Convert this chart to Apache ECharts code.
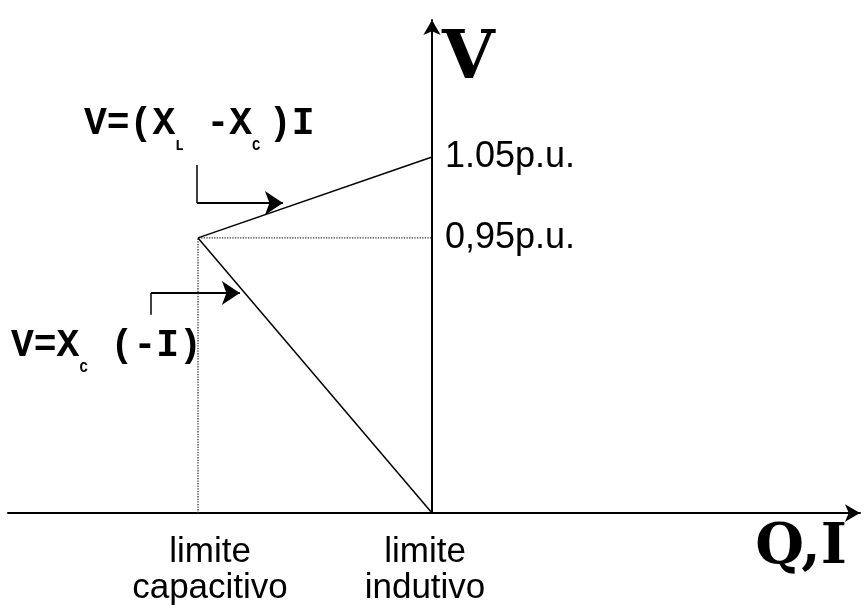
<!DOCTYPE html>
<html>
<head>
<meta charset="utf-8">
<script src="https://cdn.jsdelivr.net/npm/echarts@6/dist/echarts.min.js"></script>
<style>
  html, body { margin: 0; padding: 0; background: #fff; }
  #chart { width: 868px; height: 614px; }
</style>
</head>
<body>
<div id="chart"></div>
<script>
// x: current / reactive power, -1 = capacitive limit, 0 = inductive limit
var limitX = [-1, 0]
var limitLabels = [['limite', 'capacitivo'], ['limite', 'indutivo']]
// voltage levels, schematic heights (the sketch is not drawn to scale)
var vLevels = [0.558, 0.722]
var vLabels = ['0,95p.u.', '1.05p.u.']
// callout arrows (elbow: stem then head), in data units
var arrowXL = [[-1.004, 0.706], [-1.004, 0.629], [-0.637, 0.629]]
var arrowXC = [[-1.201, 0.402], [-1.201, 0.446], [-0.821, 0.446]]

var black = '#000'
var labelFont = 'Liberation Sans'
var eqFont = 'Liberation Mono'
var nameFont = 'DejaVu Serif'

var knee = [limitX[0], vLevels[0]]

var eqRich = {
  m: { fontFamily: eqFont, fontWeight: 'bold', fontSize: 38, lineHeight: 58 },
  s: { fontFamily: eqFont, fontWeight: 'bold', fontSize: 14, lineHeight: 15, verticalAlign: 'bottom' }
}

var chart = echarts.init(document.getElementById('chart'))

chart.setOption({
  animation: false,
  grid: { left: 8, right: 8, top: 20, bottom: 101, containLabel: false, outerBoundsMode: 'none' },
  xAxis: {
    type: 'value',
    min: -1.812,
    max: 1.829,
    name: 'Q,I',
    nameLocation: 'end',
    nameGap: -13,
    nameTextStyle: {
      fontFamily: nameFont, fontWeight: 'bold', fontSize: 56, color: black,
      align: 'right', verticalAlign: 'top', padding: [7, 0, 0, 0]
    },
    axisLine: {
      onZero: true,
      symbol: ['none', 'arrow'],
      symbolSize: [13, 15],
      lineStyle: { color: black, width: 2 }
    },
    axisTick: { show: false },
    splitLine: { show: false },
    axisLabel: {
      customValues: limitX,
      margin: 21,
      color: black,
      formatter: function(v) {
        var i = limitX.indexOf(v)
        var st = i === 0 ? 'a' : 'b'
        return limitLabels[i].map(function(t) { return '{' + st + '|' + t + '}' }).join('\n')
      },
      rich: {
        a: { fontFamily: labelFont, fontSize: 35, lineHeight: 36, color: black, padding: [0, 0, 0, 24] },
        b: { fontFamily: labelFont, fontSize: 35, lineHeight: 36, color: black, padding: [0, 14, 0, 0] }
      }
    }
  },
  yAxis: {
    type: 'value',
    position: 'right',
    // pull the axis in from the grid's right edge to x = 0
    offset: -428,
    min: 0,
    max: 1,
    name: 'V',
    nameLocation: 'end',
    nameGap: -40,
    nameTextStyle: {
      fontFamily: nameFont, fontWeight: 'bold', fontSize: 68, color: black,
      align: 'left', verticalAlign: 'middle', padding: [0, 0, 0, 10]
    },
    axisLine: {
      onZero: false,
      symbol: ['none', 'arrow'],
      symbolSize: [13, 15],
      lineStyle: { color: black, width: 2 }
    },
    axisTick: { show: false },
    splitLine: { show: false },
    axisLabel: {
      customValues: vLevels,
      margin: 13,
      fontFamily: labelFont,
      fontSize: 36,
      color: black,
      formatter: function(v) {
        return vLabels[vLevels.indexOf(v)]
      }
    }
  },
  series: [
    {
      // dotted guides from the knee to both axes
      type: 'line',
      symbol: 'none',
      data: [[limitX[0], 0], knee, [limitX[1], vLevels[0]]],
      lineStyle: { color: '#333', width: 1.3, type: 'dotted' }
    },
    {
      // V = Xc(-I)
      type: 'line',
      symbol: 'none',
      data: [knee, [limitX[1], 0]],
      lineStyle: { color: black, width: 1.5 }
    },
    {
      // V = (XL - Xc)I
      type: 'line',
      symbol: 'none',
      data: [knee, [limitX[1], vLevels[1]]],
      lineStyle: { color: black, width: 1.5 }
    },
    {
      type: 'lines',
      coordinateSystem: 'cartesian2d',
      symbol: 'none',
      lineStyle: { color: black, width: 1.5, opacity: 1 },
      data: [
        { coords: [arrowXL[0], arrowXL[1]] },
        { coords: [arrowXC[0], arrowXC[1]] }
      ]
    },
    {
      type: 'lines',
      coordinateSystem: 'cartesian2d',
      symbol: ['none', 'arrow'],
      symbolSize: 18,
      lineStyle: { color: black, width: 2, opacity: 1 },
      data: [
        { coords: [arrowXL[1], arrowXL[2]] },
        { coords: [arrowXC[1], arrowXC[2]] }
      ]
    }
  ],
  graphic: [
    {
      type: 'text',
      x: 84,
      y: 124,
      style: {
        text: '{m|V=(X}{s|L}{m| -X}{s|C }{m|)I}',
        verticalAlign: 'middle',
        fill: black,
        rich: eqRich
      }
    },
    {
      type: 'text',
      x: 11,
      y: 346,
      style: {
        text: '{m|V=X}{s|C}{m| (-I)}',
        verticalAlign: 'middle',
        fill: black,
        rich: eqRich
      }
    }
  ]
})
</script>
</body>
</html>
